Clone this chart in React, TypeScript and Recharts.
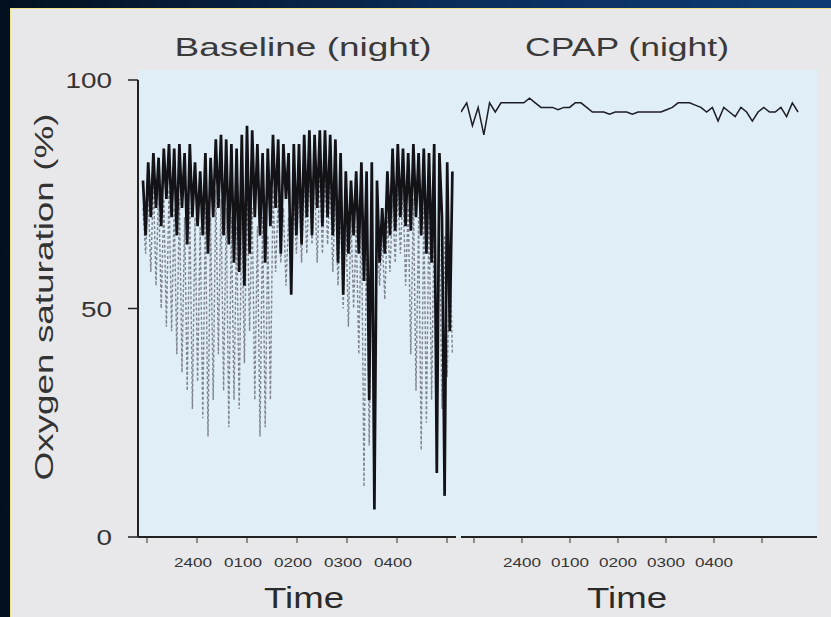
import React from 'react';
import { LineChart, Line, XAxis, YAxis } from 'recharts';

// Baseline night: sampled every ~3 min starting 22:55
const baselineStart = -1.08;
const baselineStep = 0.052;
const baselineDark = [
  78, 66, 82, 70, 84, 72, 83, 68, 85, 74,
  86, 70, 85, 66, 86, 72, 84, 64, 86, 70,
  82, 68, 80, 66, 84, 62, 83, 70, 87, 72,
  88, 66, 87, 64, 86, 60, 85, 58, 88, 55,
  90, 62, 89, 70, 86, 66, 84, 60, 85, 68,
  88, 72, 87, 62, 86, 74, 84, 53, 86, 66,
  86, 64, 88, 70, 89, 66, 88, 72, 89, 68,
  89, 70, 88, 66, 87, 60, 84, 53, 80, 62,
  78, 66, 80, 62, 82, 56, 80, 30, 82, 6,
  78, 60, 72, 62, 80, 66, 85, 67, 86, 70,
  85, 68, 84, 67, 86, 70, 84, 66, 85, 62,
  84, 60, 86, 14, 84, 70, 9, 82, 45, 80,
];
const baselineGray = [
  72, 62, 75, 58, 78, 55, 76, 50, 74, 46,
  76, 45, 72, 40, 74, 36, 70, 32, 72, 28,
  70, 34, 68, 26, 72, 22, 70, 30, 76, 40,
  74, 32, 72, 24, 70, 30, 68, 28, 72, 38,
  76, 45, 72, 30, 68, 22, 70, 24, 66, 30,
  76, 58, 74, 60, 72, 55, 70, 56, 74, 62,
  76, 60, 78, 62, 80, 64, 78, 60, 80, 62,
  80, 64, 78, 58, 76, 55, 72, 50, 70, 46,
  70, 50, 68, 40, 72, 11, 70, 20, 66, 30,
  68, 55, 66, 52, 70, 58, 74, 60, 76, 62,
  76, 55, 72, 40, 74, 32, 70, 19, 72, 25,
  72, 30, 70, 24, 68, 28, 66, 35, 62, 40,
];

// CPAP night
const cpapStart = -1.27;
const cpapStep = 0.119;
const cpapValues = [
  93, 95, 90, 94, 88, 95, 93, 95, 95, 95,
  95, 95, 96, 95, 94, 94, 94, 93.5, 94, 94,
  95, 95, 94, 93, 93, 93, 92.5, 93, 93, 93,
  92.5, 93, 93, 93, 93, 93, 93.5, 94, 95, 95,
  95, 94.5, 94, 93, 94, 91, 94, 93, 92, 94,
  93, 91, 93, 94, 93, 93, 94, 92, 95, 93,
];

const timeTicks = [-1, 0, 1, 2, 3, 4, 5];
const timeLabels = ['', '2400', '0100', '0200', '0300', '0400', ''];
const satTicks = [0, 50, 100];

const baselineRows = baselineDark.map((d, i) => ({
  t: baselineStart + i * baselineStep,
  dark: d,
  gray: baselineGray[i],
}));
const cpapRows = cpapValues.map((v, i) => ({ t: cpapStart + i * cpapStep, sat: v }));

const FONT = '"Liberation Sans", Arial, sans-serif';

const YTick = (props: any) => {
  const { x, y, payload } = props;
  const s = String(payload.value);
  return (
    <text x={x} y={y + 8} textAnchor="end" fontSize={22} fill="#333" fontFamily={FONT}
      textLength={s.length * 15.5} lengthAdjust="spacingAndGlyphs">{s}</text>
  );
};

const makeXTick = (dx: number) => (props: any) => {
  const { x, y, payload } = props;
  const s = timeLabels[timeTicks.indexOf(payload.value)] || '';
  if (!s) return <g />;
  return (
    <text x={x + dx} y={y + 24} textAnchor="middle" fontSize={13} fill="#333" fontFamily={FONT}
      textLength={38} lengthAdjust="spacingAndGlyphs">{s}</text>
  );
};

const axisStroke = { stroke: '#222', strokeWidth: 2 };

export default function App() {
  return (
    <div style={{
      position: 'fixed', left: 0, top: 0, width: 831, height: 617, overflow: 'hidden',
      background: 'linear-gradient(90deg, #03101f 0%, #0a2f5e 60%, #0d3c74 100%)',
    }}>
      <div style={{
        position: 'absolute', left: 10, top: 8, right: 0, bottom: 0, background: '#e8e8ea',
        borderLeft: '1px solid #eee38a', borderTop: '1px solid #eee38a',
      }} />
      <div style={{ position: 'absolute', left: 138, top: 70, width: 679, height: 467, background: '#e0eef8' }} />

      <div style={{ position: 'absolute', left: 0, top: 0 }}>
        <LineChart width={457} height={617} data={baselineRows} margin={{ top: 80, right: 1, bottom: 0, left: 0 }}>
          <XAxis type="number" dataKey="t" domain={[-1.18, 5.18]} ticks={timeTicks} height={80}
            axisLine={axisStroke} tickLine={{ stroke: '#333' }} tickSize={6} tickMargin={0}
            tick={makeXTick(-4)} allowDataOverflow />
          <YAxis domain={[0, 100]} ticks={satTicks} width={138} tickSize={10} tickMargin={16}
            axisLine={axisStroke} tickLine={{ stroke: '#222', strokeWidth: 1.5 }} tick={YTick} />
          <Line dataKey="gray" stroke="#7f848e" strokeWidth={1.4} strokeDasharray="3 2" dot={false} isAnimationActive={false} />
          <Line dataKey="dark" stroke="#121217" strokeWidth={2.7} dot={false} isAnimationActive={false} />
        </LineChart>
      </div>

      <div style={{ position: 'absolute', left: 457, top: 0 }}>
        <LineChart width={374} height={617} data={cpapRows} margin={{ top: 80, right: 14, bottom: 0, left: 4 }}>
          <XAxis type="number" dataKey="t" domain={[-1.27, 6.146]} ticks={timeTicks} height={80}
            axisLine={axisStroke} tickLine={{ stroke: '#333' }} tickSize={6} tickMargin={0}
            tick={makeXTick(0)} allowDataOverflow />
          <YAxis hide domain={[0, 100]} />
          <Line dataKey="sat" stroke="#1d1d24" strokeWidth={1.5} dot={false} isAnimationActive={false} />
        </LineChart>
      </div>

      <svg width={831} height={617} style={{ position: 'absolute', left: 0, top: 0, pointerEvents: 'none' }}>
        <text x={303} y={56} textAnchor="middle" fontSize={26} fill="#3a3a3a" fontFamily={FONT}
          textLength={257} lengthAdjust="spacingAndGlyphs">Baseline (night)</text>
        <text x={627} y={56} textAnchor="middle" fontSize={26} fill="#3a3a3a" fontFamily={FONT}
          textLength={204} lengthAdjust="spacingAndGlyphs">CPAP (night)</text>
        <text x={304} y={608} textAnchor="middle" fontSize={30} fill="#2a2a2a" fontFamily={FONT}
          textLength={80} lengthAdjust="spacingAndGlyphs">Time</text>
        <text x={627} y={608} textAnchor="middle" fontSize={30} fill="#2a2a2a" fontFamily={FONT}
          textLength={80} lengthAdjust="spacingAndGlyphs">Time</text>
        <text x={53} y={297} textAnchor="middle" fontSize={25} fill="#333" fontFamily={FONT}
          transform="rotate(-90 53 297)" textLength={367} lengthAdjust="spacingAndGlyphs">
          Oxygen saturation (%)
        </text>
      </svg>
    </div>
  );
}
